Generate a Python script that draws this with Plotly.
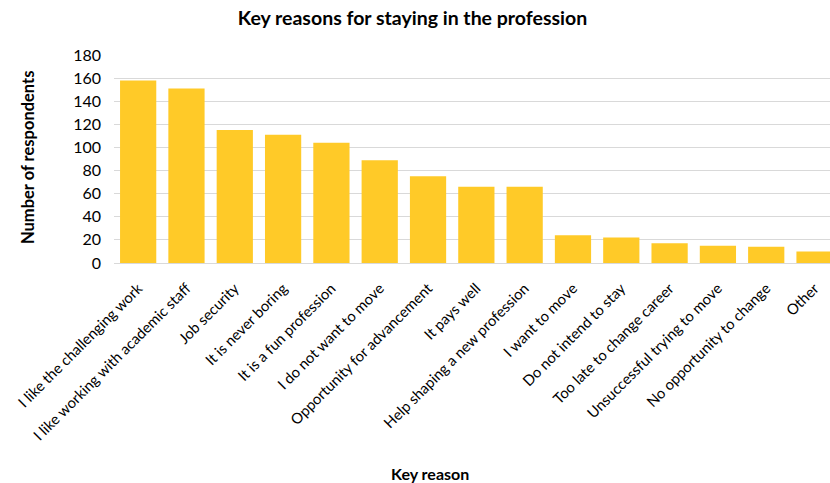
import plotly.graph_objects as go

categories = [
    "I like the challenging work",
    "I like working with academic staff",
    "Job security",
    "It is never boring",
    "It is a fun profession",
    "I do not want to move",
    "Opportunity for advancement",
    "It pays well",
    "Help shaping a new profession",
    "I want to move",
    "Do not intend to stay",
    "Too late to change career",
    "Unsuccessful trying to move",
    "No opportunity to change",
    "Other",
]
values = [158, 151, 115, 111, 104, 89, 75, 66, 66, 24, 22, 17, 15, 14, 10]

FONT = "Lato"

fig = go.Figure(go.Bar(x=categories, y=values, marker=dict(color="#FFCA28", line=dict(width=0))))

fig.update_layout(
    width=830, height=483,
    margin=dict(l=114, r=0, t=55, b=220, autoexpand=False),
    paper_bgcolor="white", plot_bgcolor="white",
    bargap=0.25,
    font=dict(family=FONT, size=14, color="#000000"),
    title=dict(text="<b>Key reasons for staying in the profession</b>", x=0.497, xref="container",
               y=0.962, yref="container", yanchor="middle", font=dict(size=19.5, family=FONT)),
    showlegend=False,
)
fig.update_xaxes(
    tickangle=-45, tickfont=dict(size=14.8, family=FONT), automargin=False,
    range=[-0.5, 14.32], showline=True, linecolor="#d9d9d9", linewidth=1,
    ticks="", showgrid=False, ticklabelstandoff=10,
)
fig.update_yaxes(
    range=[0, 180], dtick=20, tickfont=dict(size=16, family=FONT), automargin=False,
    showgrid=True, gridcolor="#d9d9d9", gridwidth=1, zeroline=False,
    ticks="", ticklabelstandoff=12,
)
fig.add_annotation(text="<b>Number of respondents</b>", xref="paper", yref="paper",
                   x=(28 - 114) / 716, y=(263 - 158) / 208, textangle=-90, showarrow=False,
                   xanchor="center", yanchor="middle",
                   font=dict(size=16.5, family=FONT))
fig.add_annotation(text="<b>Key reason</b>", xref="paper", yref="paper",
                   x=(430 - 114) / 716, y=-(474 - 263) / 208, showarrow=False,
                   xanchor="center", yanchor="middle", font=dict(size=16, family=FONT))

fig.write_html("out.html", config={"displayModeBar": False},
               post_script="document.body.style.margin='0';document.body.style.overflow='hidden';")
